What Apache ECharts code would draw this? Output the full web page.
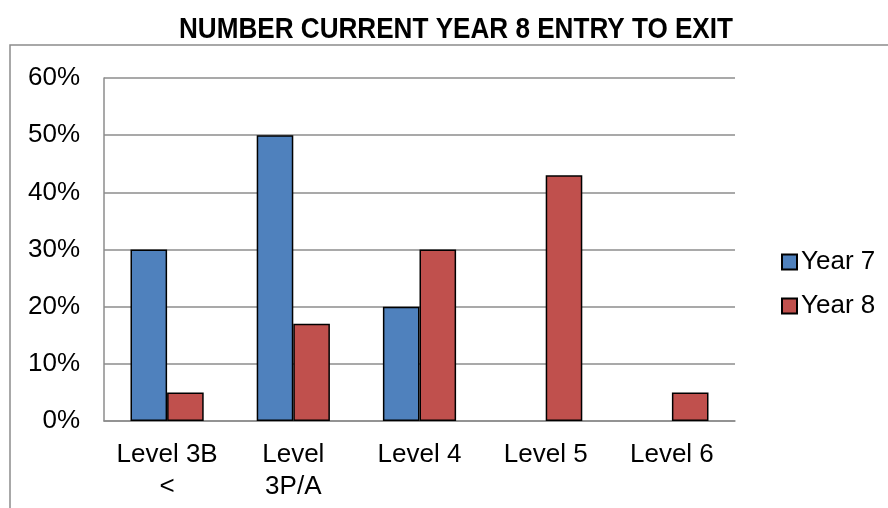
<!DOCTYPE html>
<html><head><meta charset="utf-8">
<script src="https://cdn.jsdelivr.net/npm/echarts@6/dist/echarts.min.js"></script>
<style>html,body{margin:0;padding:0;background:#fff}#c{width:888px;height:508px}</style>
</head><body><div id="c"></div>
<script>
const categories = ['Level 3B\n<', 'Level\n3P/A', 'Level 4', 'Level 5', 'Level 6'];
const year7 = [30, 50, 20, null, null];
const year8 = [5, 17, 30, 43, 5];
const yTicks = [0, 10, 20, 30, 40, 50, 60];
const titleText = 'NUMBER CURRENT YEAR 8 ENTRY TO EXIT';

const FONT = '"Liberation Sans", Arial, sans-serif';
const chart = echarts.init(document.getElementById('c'));
chart.setOption({
  animation: false,
  backgroundColor: '#fff',
  graphic: [{
    type: 'rect', shape: {x: 10, y: 45, width: 900, height: 500},
    style: {fill: 'none', stroke: '#8c8c8c', lineWidth: 1.5}, z: -1
  }, {
    type: 'text', x: 456, y: 30, scaleX: 0.9, originX: 0, originY: 0,
    style: {text: titleText, fontFamily: FONT, fontWeight: 'bold', fontSize: 29, fill: '#000',
            align: 'center', verticalAlign: 'middle'}
  }],
  legend: {
    orient: 'vertical', left: 776, top: 244, itemGap: 18,
    itemWidth: 15, itemHeight: 15, icon: 'rect',
    textStyle: {fontFamily: FONT, fontSize: 26, color: '#000', padding: [0,0,0,-1]},
    data: ['Year 7', 'Year 8']
  },
  grid: {left: 104, right: 153, top: 78, bottom: 87},
  xAxis: {
    type: 'category', data: categories,
    axisLine: {lineStyle: {color: '#8c8c8c', width: 1.5}},
    axisTick: {show: false},
    axisLabel: {fontFamily: FONT, fontSize: 26, color: '#000', margin: 18, lineHeight: 32, interval: 0}
  },
  yAxis: {
    type: 'value', min: 0, max: 60, interval: 10,
    axisLine: {show: true, lineStyle: {color: '#8c8c8c', width: 1.5}},
    axisTick: {show: false},
    splitLine: {lineStyle: {color: '#8c8c8c', width: 1.5}},
    axisLabel: {fontFamily: FONT, fontSize: 26, color: '#000', margin: 24,
      formatter: v => yTicks.includes(v) ? v + '%' : ''}
  },
  series: [
    {name: 'Year 7', type: 'bar', data: year7, barGap: '0%', barCategoryGap: '42%',
     itemStyle: {color: '#4f81bd', borderColor: '#000', borderWidth: 1.5}},
    {name: 'Year 8', type: 'bar', data: year8, barGap: '0%', barCategoryGap: '42%',
     itemStyle: {color: '#c0504d', borderColor: '#000', borderWidth: 1.5}}
  ]
});
</script></body></html>
